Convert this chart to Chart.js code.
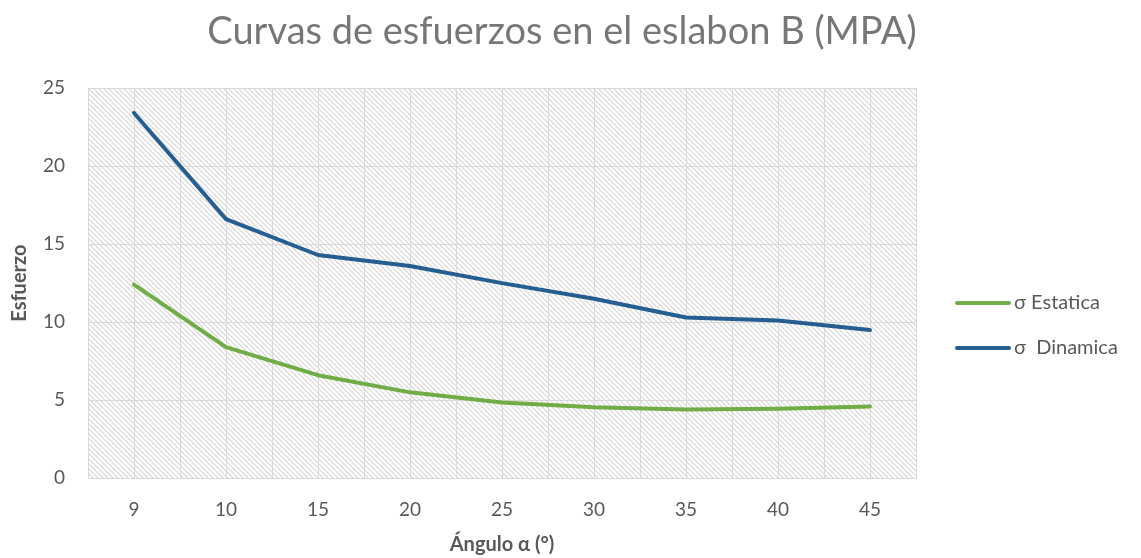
<!DOCTYPE html>
<html>
<head>
<meta charset="utf-8">
<script src="https://cdn.jsdelivr.net/npm/chart.js@4.4.1/dist/chart.umd.min.js"></script>
<style>
  html, body { margin: 0; padding: 0; background: #ffffff; }
  #wrap { width: 1141px; height: 558px; }
</style>
</head>
<body>
<div id="wrap"><canvas id="c" width="1141" height="558"></canvas></div>
<script>
// Angle categories (degrees) and stress values (MPa)
const categories = ['9', '10', '15', '20', '25', '30', '35', '40', '45'];
const estatica = [12.4, 8.4, 6.6, 5.5, 4.85, 4.55, 4.4, 4.45, 4.6];
const dinamica = [23.4, 16.6, 14.3, 13.6, 12.5, 11.5, 10.3, 10.1, 9.5];
const seriesNames = ['\u03c3 Estatica', '\u03c3  Dinamica'];
const yTicks = [0, 5, 10, 15, 20, 25];
const chartTitle = 'Curvas de esfuerzos en el eslabon B (MPA)';

const FONT = 'Lato, "Open Sans", sans-serif';
const GRID = '#d9d9d9';

function toPoints(values) {
  return values.map((v, i) => ({ x: i, y: v }));
}

// Diagonal hatch used as the plot-area fill
function makeHatch(ctx) {
  const tile = document.createElement('canvas');
  tile.width = 5; tile.height = 5;
  const t = tile.getContext('2d');
  t.strokeStyle = '#d6d6d6';
  t.lineWidth = 1.2;
  t.beginPath();
  t.moveTo(-1, -1); t.lineTo(6, 6);
  t.moveTo(-4, 1); t.lineTo(1, 6);
  t.moveTo(1, -4); t.lineTo(6, 1);
  t.stroke();
  return ctx.createPattern(tile, 'repeat');
}

const plotBackground = {
  id: 'plotBackground',
  beforeDraw(chart) {
    const { ctx, chartArea: a } = chart;
    ctx.save();
    ctx.fillStyle = makeHatch(ctx);
    ctx.fillRect(a.left, a.top, a.right - a.left, a.bottom - a.top);
    ctx.restore();
  },
  afterDatasetsDraw(chart) {
    const { ctx, chartArea: a } = chart;
    ctx.save();
    ctx.strokeStyle = GRID;
    ctx.lineWidth = 1;
    ctx.strokeRect(Math.round(a.left) + 0.5, Math.round(a.top) + 0.5,
      Math.round(a.right - a.left), Math.round(a.bottom - a.top));
    ctx.restore();
  }
};

// Title centred over the whole figure (plot + legend)
const figureTitle = {
  id: 'figureTitle',
  afterDraw(chart) {
    const { ctx } = chart;
    ctx.save();
    ctx.fillStyle = '#777777';
    ctx.font = '38px ' + FONT;
    ctx.textAlign = 'center';
    ctx.textBaseline = 'middle';
    ctx.fillText(chartTitle, 562, 32);
    ctx.restore();
  }
};

// Legend to the right of the plot, one line sample per series
const sideLegend = {
  id: 'sideLegend',
  afterDraw(chart) {
    const { ctx, chartArea: a } = chart;
    const x0 = a.right + 41;
    ctx.save();
    chart.data.datasets.forEach((ds, i) => {
      const y = a.top + 215 + i * 45;
      ctx.strokeStyle = ds.borderColor;
      ctx.lineWidth = 4;
      ctx.lineCap = 'round';
      ctx.beginPath();
      ctx.moveTo(x0, y);
      ctx.lineTo(x0 + 52, y);
      ctx.stroke();
      ctx.fillStyle = '#595959';
      ctx.font = '20px ' + FONT;
      ctx.textBaseline = 'middle';
      ctx.textAlign = 'left';
      ctx.fillText(ds.label, x0 + 57, y);
    });
    ctx.restore();
  }
};

new Chart(document.getElementById('c'), {
  type: 'line',
  data: {
    datasets: [
      { label: seriesNames[0], data: toPoints(estatica), borderColor: '#70ad47', backgroundColor: '#70ad47' },
      { label: seriesNames[1], data: toPoints(dinamica), borderColor: '#255e91', backgroundColor: '#255e91' }
    ]
  },
  options: {
    responsive: false,
    animation: false,
    layout: { padding: { left: 0, right: 225, top: 88, bottom: 1 } },
    elements: {
      line: { borderWidth: 4, tension: 0, borderCapStyle: 'round', borderJoinStyle: 'round' },
      point: { radius: 0, hoverRadius: 0 }
    },
    plugins: {
      legend: { display: false },
      tooltip: { enabled: false },
      title: { display: false }
    },
    scales: {
      x: {
        type: 'linear',
        min: -0.5,
        max: categories.length - 0.5,
        afterBuildTicks(scale) {
          const t = [];
          for (let v = -0.5; v <= categories.length - 0.5 + 1e-9; v += 0.5) t.push({ value: v });
          scale.ticks = t;
        },
        grid: { color: GRID, lineWidth: 1, drawTicks: false },
        border: { display: false },
        ticks: {
          autoSkip: false,
          maxRotation: 0,
          padding: 20,
          color: '#595959',
          font: { family: FONT, size: 19 },
          callback: (v) => Number.isInteger(v) ? categories[v] : ''
        },
        title: {
          display: true,
          text: '\u00c1ngulo \u03b1 (\u00b0)',
          color: '#595959',
          font: { family: FONT, size: 20, weight: 'bold' },
          padding: { top: -8, bottom: 0 }
        }
      },
      y: {
        min: 0,
        max: 25,
        afterBuildTicks(scale) { scale.ticks = yTicks.map(v => ({ value: v })); },
        afterFit(scale) { scale.width = 88; },
        grid: { color: GRID, lineWidth: 1, drawTicks: false },
        border: { display: false },
        ticks: {
          padding: 23,
          color: '#595959',
          font: { family: FONT, size: 19 }
        },
        title: {
          display: true,
          text: 'Esfuerzo',
          color: '#595959',
          font: { family: FONT, size: 20, weight: 'bold' },
          padding: { top: 8, bottom: 0 }
        }
      }
    }
  },
  plugins: [plotBackground, figureTitle, sideLegend]
});
</script>
</body>
</html>
